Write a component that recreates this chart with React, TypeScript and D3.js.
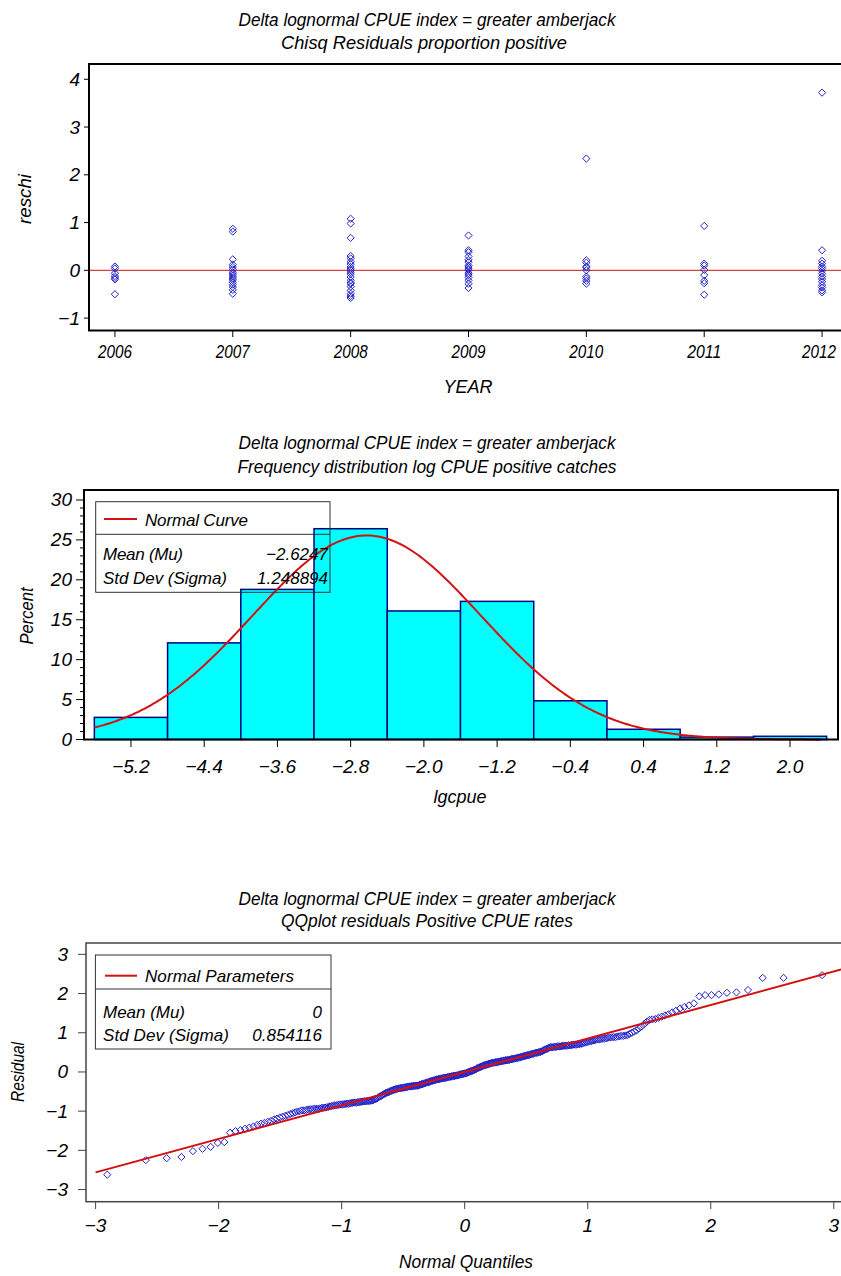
import React from 'react';
import * as d3 from 'd3';

// ---------- Panel 1 data: chi-square residuals by year ----------
const years = [2006, 2007, 2008, 2009, 2010, 2011, 2012];
const resid2006 = [0.08, 0.04, -0.06, -0.12, -0.16, -0.19, -0.5];
const resid2007 = [0.87, 0.81, 0.23, 0.12, 0.07, 0.02, -0.04, -0.08, -0.12, -0.16, -0.2, -0.25, -0.3, -0.35, -0.41, -0.49];
const resid2008 = [1.08, 0.98, 0.68, 0.3, 0.25, 0.18, 0.13, 0.07, 0.03, 0.0, -0.04, -0.08, -0.14, -0.21, -0.26, -0.28, -0.34, -0.42, -0.49, -0.54, -0.58];
const resid2009 = [0.73, 0.42, 0.38, 0.29, 0.22, 0.17, 0.1, 0.07, 0.03, 0.0, -0.06, -0.1, -0.15, -0.21, -0.28, -0.37];
const resid2010 = [2.34, 0.21, 0.16, 0.08, 0.06, 0.0, -0.13, -0.17, -0.22, -0.28];
const resid2011 = [0.93, 0.14, 0.1, 0.01, -0.1, -0.22, -0.27, -0.51];
const resid2012 = [3.72, 0.42, 0.2, 0.14, 0.08, 0.04, -0.01, -0.07, -0.13, -0.18, -0.24, -0.31, -0.36, -0.42, -0.46];
const residByYear = [resid2006, resid2007, resid2008, resid2009, resid2010, resid2011, resid2012];
const p1YTicks = [-1, 0, 1, 2, 3, 4];

// ---------- Panel 2 data: histogram of log CPUE ----------
const histMid = [-5.2, -4.4, -3.6, -2.8, -2.0, -1.2, -0.4, 0.4, 1.2, 2.0];
const histPct = [2.77, 12.1, 18.8, 26.4, 16.1, 17.3, 4.85, 1.28, 0.3, 0.4];
const histBinWidth = 0.8;
const histMean = -2.6247;
const histSd = 1.248894;
const histYTicks = [0, 5, 10, 15, 20, 25, 30];

// ---------- Panel 3 data: sorted residuals for QQ plot ----------
const qqResiduals = [
  -2.62, -2.25, -2.2, -2.17, -2.02, -1.96, -1.91, -1.81, -1.79,
  -1.55, -1.51, -1.48, -1.45, -1.42, -1.39, -1.35, -1.32, -1.3, -1.27, -1.25,
  -1.21, -1.19, -1.16, -1.14, -1.12, -1.1, -1.07, -1.05, -1.03, -1.01,
  -1.0, -0.98, -0.98, -0.97, -0.96, -0.95, -0.95, -0.94, -0.94, -0.94,
  -0.93, -0.92, -0.91, -0.91, -0.9, -0.89, -0.88, -0.87, -0.86, -0.85,
  -0.85, -0.84, -0.83, -0.83, -0.83, -0.82, -0.82, -0.81, -0.81, -0.8,
  -0.79, -0.79, -0.78, -0.78, -0.78, -0.77, -0.77, -0.76, -0.76, -0.75,
  -0.75, -0.75, -0.74, -0.74, -0.74, -0.73, -0.73, -0.72, -0.7, -0.69,
  -0.68, -0.66, -0.64, -0.62, -0.61, -0.59, -0.57, -0.56, -0.54, -0.53,
  -0.52, -0.51, -0.49, -0.48, -0.47, -0.46, -0.45, -0.44, -0.43, -0.43,
  -0.42, -0.42, -0.41, -0.41, -0.4, -0.4, -0.39, -0.39, -0.38, -0.38,
  -0.37, -0.37, -0.37, -0.36, -0.36, -0.36, -0.35, -0.35, -0.35, -0.35,
  -0.34, -0.33, -0.32, -0.31, -0.31, -0.3, -0.29, -0.28, -0.27, -0.27,
  -0.26, -0.25, -0.24, -0.23, -0.23, -0.22, -0.21, -0.21, -0.2, -0.19,
  -0.19, -0.18, -0.18, -0.17, -0.17, -0.16, -0.16, -0.15, -0.15, -0.15,
  -0.14, -0.13, -0.13, -0.12, -0.12, -0.11, -0.11, -0.1, -0.1, -0.1,
  -0.09, -0.09, -0.08, -0.08, -0.07, -0.06, -0.06, -0.05, -0.05, -0.04,
  -0.04, -0.03, -0.02, -0.01, 0.0, 0.01, 0.02, 0.02, 0.03, 0.04,
  0.05, 0.06, 0.07, 0.09, 0.1, 0.11, 0.12, 0.13, 0.14, 0.15,
  0.16, 0.17, 0.18, 0.18, 0.19, 0.2, 0.21, 0.21, 0.22, 0.23,
  0.23, 0.24, 0.24, 0.25, 0.25, 0.25, 0.26, 0.26, 0.27, 0.27,
  0.28, 0.28, 0.29, 0.29, 0.3, 0.3, 0.3, 0.31, 0.31, 0.32,
  0.33, 0.33, 0.34, 0.34, 0.35, 0.35, 0.36, 0.37, 0.37, 0.38,
  0.38, 0.39, 0.4, 0.41, 0.41, 0.42, 0.43, 0.43, 0.44, 0.45,
  0.46, 0.46, 0.47, 0.48, 0.49, 0.49, 0.5, 0.51, 0.51, 0.52,
  0.54, 0.55, 0.57, 0.58, 0.59, 0.61, 0.62, 0.63, 0.63, 0.63,
  0.64, 0.64, 0.64, 0.65, 0.65, 0.65, 0.66, 0.66, 0.67, 0.67,
  0.67, 0.67, 0.68, 0.68, 0.69, 0.69, 0.7, 0.7, 0.7, 0.71,
  0.71, 0.72, 0.73, 0.74, 0.75, 0.76, 0.77, 0.78, 0.79, 0.8,
  0.81, 0.82, 0.83, 0.83, 0.84, 0.85, 0.85, 0.86, 0.87, 0.88,
  0.88, 0.89, 0.89, 0.9, 0.91, 0.92, 0.92, 0.93, 0.94, 0.97,
  1.0, 1.03, 1.06, 1.11, 1.16, 1.22, 1.28, 1.33, 1.34, 1.35,
  1.38, 1.41, 1.44, 1.47, 1.52, 1.56, 1.62, 1.66, 1.7, 1.75,
  1.93, 1.96, 1.96, 1.98, 2.02, 2.03, 2.09, 2.4, 2.4, 2.47,
];
const qqMean = 0;
const qqSd = 0.854116;
const qqTicks = [-3, -2, -1, 0, 1, 2, 3];

// ---------- helpers ----------
const FONT = "'Liberation Sans', Arial, Helvetica, sans-serif";
const MARK = '#2222c8';
const RED = '#d41010';

function invNorm(p: number): number {
  const a = [-3.969683028665376e1, 2.209460984245205e2, -2.759285104469687e2, 1.38357751867269e2, -3.066479806614716e1, 2.506628277459239];
  const b = [-5.447609879822406e1, 1.615858368580409e2, -1.556989798598866e2, 6.680131188771972e1, -1.328068155288572e1];
  const c = [-7.784894002430293e-3, -3.223964580411365e-1, -2.400758277161838, -2.549671348283906, 4.374664141464968, 2.938163982698783];
  const d = [7.784695709041462e-3, 3.224671290700398e-1, 2.445134137142996, 3.754408661907416];
  const pl = 0.02425;
  if (p < pl) {
    const q = Math.sqrt(-2 * Math.log(p));
    return (((((c[0] * q + c[1]) * q + c[2]) * q + c[3]) * q + c[4]) * q + c[5]) / ((((d[0] * q + d[1]) * q + d[2]) * q + d[3]) * q + 1);
  }
  if (p <= 1 - pl) {
    const q = p - 0.5;
    const r = q * q;
    return ((((((a[0] * r + a[1]) * r + a[2]) * r + a[3]) * r + a[4]) * r + a[5]) * q) / (((((b[0] * r + b[1]) * r + b[2]) * r + b[3]) * r + b[4]) * r + 1);
  }
  const q = Math.sqrt(-2 * Math.log(1 - p));
  return -(((((c[0] * q + c[1]) * q + c[2]) * q + c[3]) * q + c[4]) * q + c[5]) / ((((d[0] * q + d[1]) * q + d[2]) * q + d[3]) * q + 1);
}

const diamond = (cx: number, cy: number, r = 3.6) =>
  `M${cx},${cy - r}L${cx + r},${cy}L${cx},${cy + r}L${cx - r},${cy}Z`;

const fmtNeg = (s: string) => s.replace('-', '\u2212');

type TP = {
  x: number; y: number; children: React.ReactNode; anchor?: string; size?: number;
  len?: number; rotate?: boolean; squeeze?: boolean;
};
const T = ({ x, y, children, anchor = 'middle', size = 17, len, rotate, squeeze }: TP) => (
  <text
    x={x}
    y={y}
    textAnchor={anchor as any}
    dominantBaseline="central"
    fontFamily={FONT}
    fontStyle="italic"
    fontSize={size}
    fill="#000"
    textLength={len}
    lengthAdjust={len ? (squeeze ? 'spacingAndGlyphs' : 'spacing') : undefined}
    transform={rotate ? `rotate(-90,${x},${y})` : undefined}
  >
    {children}
  </text>
);

export default function App() {
  // ---- Panel 1 scales
  const x1 = d3.scaleLinear().domain([2005.78, 2012.22]).range([89, 848]);
  const y1 = d3.scaleLinear().domain([-1.26, 4.32]).range([330.5, 64]);

  // ---- Panel 2 scales
  const x2 = d3.scaleLinear().domain([-5.713, 2.524]).range([84, 838]);
  const y2 = d3.scaleLinear().domain([0, 31.25]).range([739.5, 490]);
  const curveXs = d3.range(-5.6, 2.36, 0.02);
  const curveLine = d3
    .line<number>()
    .x((v) => x2(v))
    .y((v) => {
      const z = (v - histMean) / histSd;
      return y2((100 * histBinWidth * Math.exp(-0.5 * z * z)) / (histSd * Math.sqrt(2 * Math.PI)));
    });
  const minorTicks = d3.range(0, 31).filter((v) => v % 5 !== 0);

  // ---- Panel 3 scales
  const x3 = d3.scaleLinear().domain([-3.078, 3.078]).range([86, 843.4]);
  const y3 = d3.scaleLinear().domain([-3.31, 3.29]).range([1201.7, 943]);
  const nq = qqResiduals.length;
  const qqPts = qqResiduals.map((r, i) => [invNorm((i + 1 - 0.375) / (nq + 0.25)), r]);
  const refLine = d3
    .line<number>()
    .x((v) => x3(v))
    .y((v) => y3(qqMean + qqSd * v));

  return (
    <svg
      width={841}
      height={1276}
      style={{ position: 'absolute', left: 0, top: 0, background: '#fff' }}
    >
      <rect x={0} y={0} width={841} height={1276} fill="#fff" />

      {/* ================= Panel 1 ================= */}
      <T x={427} y={20} len={377} size={18} squeeze>Delta lognormal CPUE index = greater amberjack</T>
      <T x={424} y={43} len={286} size={18} squeeze>Chisq Residuals proportion positive</T>
      <line x1={89} x2={848} y1={y1(0)} y2={y1(0)} stroke={RED} strokeWidth={1} />
      {residByYear.map((vals, i) =>
        vals.map((v, j) => (
          <path key={`p1-${i}-${j}`} d={diamond(x1(years[i]), y1(v))} fill="none" stroke={MARK} strokeWidth={1} />
        ))
      )}
      <rect x={89} y={64} width={759} height={266.5} fill="none" stroke="#000" strokeWidth={2} />
      {p1YTicks.map((t) => (
        <g key={`p1y${t}`}>
          <line x1={84} x2={89} y1={y1(t)} y2={y1(t)} stroke="#000" strokeWidth={1} />
          <T x={80} y={y1(t)} anchor="end" size={19}>{fmtNeg(String(t))}</T>
        </g>
      ))}
      {years.map((yr) => (
        <g key={`p1x${yr}`}>
          <line x1={x1(yr)} x2={x1(yr)} y1={330.5} y2={337} stroke="#000" strokeWidth={1} />
          <T x={Math.min(x1(yr), 819)} y={352} len={34} size={18} squeeze>{String(yr)}</T>
        </g>
      ))}
      <T x={468} y={387} size={18}>YEAR</T>
      <T x={25} y={199} rotate len={50} size={18} squeeze>reschi</T>

      {/* ================= Panel 2 ================= */}
      <T x={427} y={443} len={377} size={18} squeeze>Delta lognormal CPUE index = greater amberjack</T>
      <T x={427} y={467} len={379} size={18} squeeze>Frequency distribution log CPUE positive catches</T>
      {histMid.map((m, i) => (
        <rect
          key={`bar${i}`}
          x={x2(m - histBinWidth / 2)}
          y={y2(histPct[i])}
          width={x2(m + histBinWidth / 2) - x2(m - histBinWidth / 2)}
          height={y2(0) - y2(histPct[i])}
          fill="#00ffff"
          stroke="#000080"
          strokeWidth={1.5}
        />
      ))}
      <path d={curveLine(curveXs) || ''} fill="none" stroke={RED} strokeWidth={2} />
      <rect x={84} y={490} width={754} height={249.5} fill="none" stroke="#000" strokeWidth={2} />
      {histYTicks.map((t) => (
        <g key={`hy${t}`}>
          <line x1={76} x2={84} y1={y2(t)} y2={y2(t)} stroke="#000" strokeWidth={1} />
          <T x={72} y={y2(t)} anchor="end" size={19}>{String(t)}</T>
        </g>
      ))}
      {minorTicks.map((t) => (
        <line key={`hm${t}`} x1={80} x2={84} y1={y2(t)} y2={y2(t)} stroke="#000" strokeWidth={1} />
      ))}
      {histMid.map((m) => (
        <g key={`hx${m}`}>
          <line x1={x2(m)} x2={x2(m)} y1={739.5} y2={747} stroke="#000" strokeWidth={1} />
          <T x={x2(m)} y={766} size={19}>{fmtNeg(d3.format('.1f')(m))}</T>
        </g>
      ))}
      <T x={460} y={797} size={18}>lgcpue</T>
      <T x={27} y={616} rotate len={57} size={18} squeeze>Percent</T>
      {/* legend */}
      <rect x={95.7} y={501.7} width={234.3} height={90.6} fill="none" stroke="#333" strokeWidth={1} />
      <line x1={95.7} x2={330} y1={534.3} y2={534.3} stroke="#333" strokeWidth={1} />
      <line x1={104} x2={137} y1={519} y2={519} stroke={RED} strokeWidth={2} />
      <T x={145} y={520} anchor="start" len={103}>Normal Curve</T>
      <T x={103} y={554} anchor="start" len={80}>Mean (Mu)</T>
      <T x={328} y={554} anchor="end">{fmtNeg(String(histMean))}</T>
      <T x={103} y={578} anchor="start" len={124}>Std Dev (Sigma)</T>
      <T x={328} y={578} anchor="end">{String(histSd)}</T>

      {/* ================= Panel 3 ================= */}
      <T x={427} y={899} len={377} size={18} squeeze>Delta lognormal CPUE index = greater amberjack</T>
      <T x={427} y={921} len={292} size={18} squeeze>QQplot residuals Positive CPUE rates</T>
      {qqPts.map(([q, r], i) => (
        <path key={`qq${i}`} d={diamond(x3(q), y3(r))} fill="none" stroke={MARK} strokeWidth={1} />
      ))}
      <path d={refLine([-3.0, 3.06]) || ''} fill="none" stroke={RED} strokeWidth={2} />
      <rect x={86} y={943} width={757.4} height={258.7} fill="none" stroke="#444" strokeWidth={1.5} />
      {qqTicks.map((t) => (
        <g key={`qy${t}`}>
          <line x1={78} x2={86} y1={y3(t)} y2={y3(t)} stroke="#444" strokeWidth={1} />
          <T x={68} y={y3(t)} anchor="end" size={19}>{fmtNeg(String(t))}</T>
        </g>
      ))}
      {qqTicks.map((t) => (
        <g key={`qx${t}`}>
          <line x1={x3(t)} x2={x3(t)} y1={1201.7} y2={1209} stroke="#444" strokeWidth={1} />
          <T x={x3(t)} y={1225} size={19}>{fmtNeg(String(t))}</T>
        </g>
      ))}
      <T x={466} y={1262} len={134} size={18} squeeze>Normal Quantiles</T>
      <T x={18} y={1072} rotate len={60} size={18} squeeze>Residual</T>
      {/* legend */}
      <rect x={95.4} y={955} width={235.6} height={94} fill="none" stroke="#333" strokeWidth={1} />
      <line x1={95.4} x2={331} y1={989} y2={989} stroke="#333" strokeWidth={1} />
      <line x1={105} x2={137} y1={975.7} y2={975.7} stroke={RED} strokeWidth={2} />
      <T x={145} y={976} anchor="start" len={149}>Normal Parameters</T>
      <T x={103} y={1012.7} anchor="start" len={82}>Mean (Mu)</T>
      <T x={322} y={1012.7} anchor="end">{String(qqMean)}</T>
      <T x={103} y={1035.5} anchor="start" len={126}>Std Dev (Sigma)</T>
      <T x={322} y={1035.5} anchor="end">{String(qqSd)}</T>
    </svg>
  );
}
